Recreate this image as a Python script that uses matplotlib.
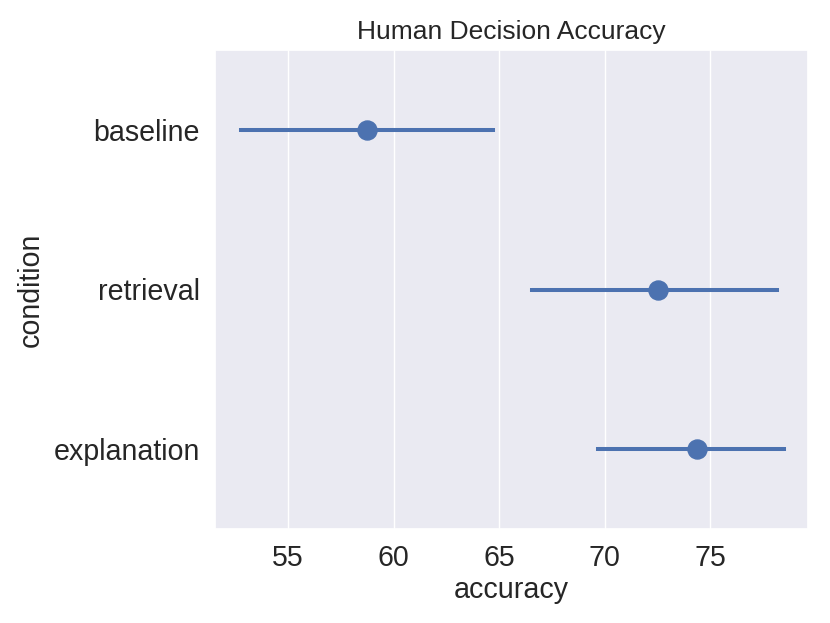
import matplotlib
matplotlib.use("Agg")
import matplotlib.pyplot as plt
import seaborn as sns

conditions = ["baseline", "retrieval", "explanation"]
means = [58.74, 72.53, 74.38]
ci_low = [52.77, 66.56, 69.69]
ci_high = [64.72, 78.18, 78.50]
x_ticks = [55, 60, 65, 70, 75]

sns.set_theme(style="darkgrid")
plt.rcParams['font.family'] = ['Liberation Sans', 'DejaVu Sans']

fig = plt.figure(figsize=(8.3, 6.23), dpi=100)
ax = fig.add_axes([215/830, 1 - 529/623, (808-215)/830, (529-50)/623])

color = "#4C72B0"
ypos = list(range(len(conditions)))
xerr = [[m - lo for m, lo in zip(means, ci_low)], [hi - m for m, hi in zip(means, ci_high)]]
ax.errorbar(means, ypos, xerr=xerr, fmt='o', color=color, ecolor=color,
            elinewidth=2.9, capsize=1.2, capthick=2.9, markersize=13.7, zorder=3)

ax.set_yticks(ypos)
ax.set_yticklabels(conditions)
ax.set_ylim(2.5, -0.5)
ax.set_xlim(51.54, 79.64)
ax.set_xticks(x_ticks)
ax.grid(axis='y', visible=False)
ax.tick_params(axis='both', labelsize=20.6, pad=5)
ax.set_xlabel("accuracy", fontsize=20.6, labelpad=3)
ax.set_ylabel("condition", fontsize=20.6, labelpad=6)
ax.set_title("Human Decision Accuracy", fontsize=19, pad=8)

fig.savefig("out.png", dpi=100)
